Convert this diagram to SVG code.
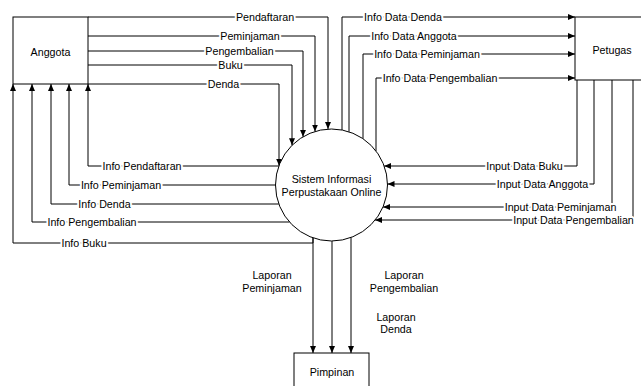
<svg xmlns="http://www.w3.org/2000/svg" width="641" height="386" viewBox="0 0 641 386">
<style>
text{font-family:"Liberation Sans",Arial,sans-serif;font-size:10.7px;fill:#000;text-anchor:middle}
.box{fill:#fff;stroke:#000;stroke-width:1}
.c{fill:none;stroke:#000;stroke-width:1}
.a{marker-end:url(#arr)}
.lbl{stroke:#fff;stroke-width:4px;paint-order:stroke;stroke-linejoin:round}
</style>
<defs>
<marker id="arr" markerUnits="userSpaceOnUse" markerWidth="8" markerHeight="7" refX="7" refY="3" orient="auto">
<path d="M0,0 L7,3 L0,6 z" fill="#000"/>
</marker>
</defs>
<rect width="641" height="386" fill="#fff"/>
<g id="anggota"><rect class="box" x="13" y="17" width="75" height="67"/><text x="50.5" y="56">Anggota</text></g>
<g id="petugas"><rect class="box" x="575" y="17" width="80" height="63"/><text x="612" y="54">Petugas</text></g>
<g id="pimpinan"><rect class="box" x="294" y="353" width="75" height="45"/><text x="332" y="376">Pimpinan</text></g>
<g id="sistem"><circle class="box" cx="331.5" cy="185" r="56"/><text x="331.5" y="183">Sistem Informasi</text><text x="331.5" y="196">Perpustakaan Online</text></g>
<g id="connectors">
<g><path class="c a" d="M88,17 H328 V129"/><text class="lbl" x="265" y="21">Pendaftaran</text></g>
<g><path class="c a" d="M88,36 H315 V131.5"/><text class="lbl" x="250" y="40">Peminjaman</text></g>
<g><path class="c a" d="M88,51 H303 V136.8"/><text class="lbl" x="239.5" y="55">Pengembalian</text></g>
<g><path class="c a" d="M88,65 H292 V145.3"/><text class="lbl" x="230.5" y="69">Buku</text></g>
<g><path class="c a" d="M88,84 H279 V165.5"/><text class="lbl" x="223.5" y="88">Denda</text></g>
<g><path class="c a" d="M342,130 V17 H575"/><text class="lbl" x="403" y="21">Info Data Denda</text></g>
<g><path class="c a" d="M349,131.8 V36 H575"/><text class="lbl" x="414" y="40">Info Data Anggota</text></g>
<g><path class="c a" d="M363,138.7 V54 H575"/><text class="lbl" x="427" y="58">Info Data Peminjaman</text></g>
<g><path class="c a" d="M376,151 V78 H575"/><text class="lbl" x="440" y="82">Info Data Pengembalian</text></g>
<g><path class="c a" d="M577,80 V166 H384.2"/><text class="lbl" x="524.5" y="170">Input Data Buku</text></g>
<g><path class="c a" d="M594,80 V184 H387.5"/><text class="lbl" x="542.5" y="188">Input Data Anggota</text></g>
<g><path class="c a" d="M612,80 V207 H383"/><text class="lbl" x="560.5" y="211">Input Data Peminjaman</text></g>
<g><path class="c a" d="M633,80 V220 H375"/><text class="lbl" x="573.5" y="224">Input Data Pengembalian</text></g>
<g><path class="c a" d="M278.8,166 H88 V84"/><text class="lbl" x="142" y="170">Info Pendaftaran</text></g>
<g><path class="c a" d="M275.5,185 H69 V84"/><text class="lbl" x="121" y="189">Info Peminjaman</text></g>
<g><path class="c a" d="M278.8,204 H51 V84"/><text class="lbl" x="104.5" y="208">Info Denda</text></g>
<g><path class="c a" d="M289.5,222 H32 V84"/><text class="lbl" x="92" y="226">Info Pengembalian</text></g>
<g><path class="c a" d="M313,238 V243 H13 V84"/><text class="lbl" x="84" y="247">Info Buku</text></g>
<g><path class="c a" d="M313,238 V353"/><text x="272" y="279">Laporan</text><text x="272" y="292">Peminjaman</text></g>
<g><path class="c a" d="M332,241 V353"/><text x="404" y="279">Laporan</text><text x="404" y="292">Pengembalian</text></g>
<g><path class="c a" d="M351,237.5 V353"/><text x="396" y="321">Laporan</text><text x="396" y="333">Denda</text></g>
</g>
</svg>
